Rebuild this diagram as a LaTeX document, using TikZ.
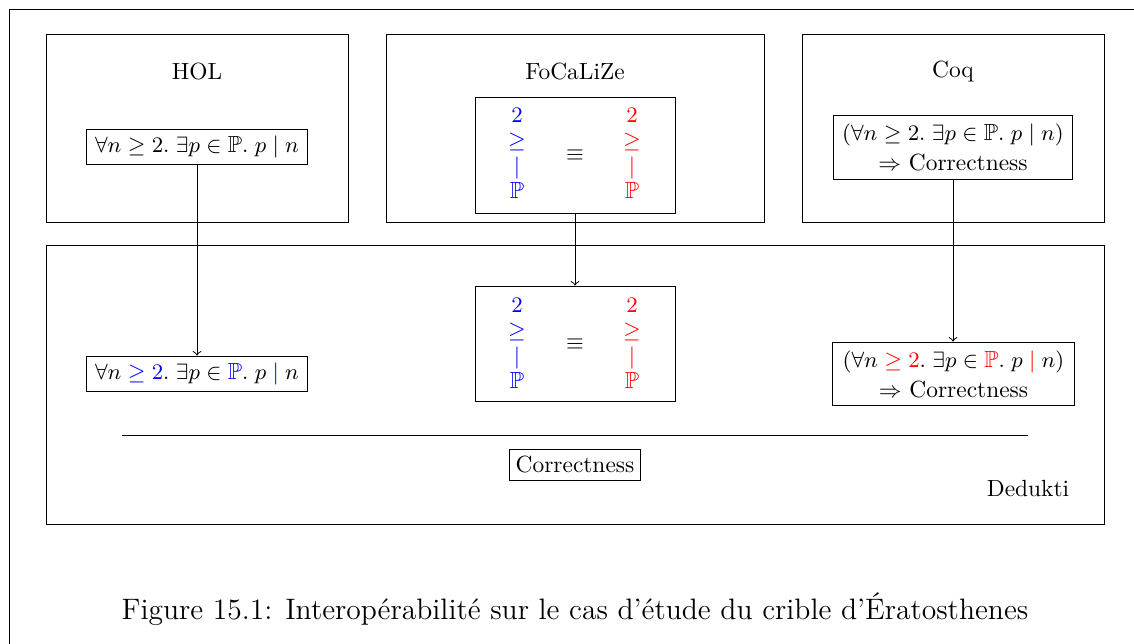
\documentclass[tikz,border=0pt]{standalone}
\usepackage{fontspec}
\usepackage{amssymb}
\newdimen\pxu \pxu=0.406pt
\newcommand\colstack[1]{\textcolor{#1}{$2$}\\[-1.2pt]\textcolor{#1}{$\geq$}\\[-1.2pt]\textcolor{#1}{$|$}\\[-1.2pt]\textcolor{#1}{$\mathbb{P}$}}
\begin{document}
\begin{tikzpicture}[x=0.406pt,y=-0.406pt,
  every node/.style={font=\fontsize{9.5}{11.5}\selectfont},
  frame/.style={draw, inner sep=0pt},
  fbox/.style={draw, inner xsep=3.6pt, inner ysep=2.8pt, align=center},
  twoline/.style={draw, inner xsep=3.6pt, inner ysep=3.4pt, align=center, font=\fontsize{9.5}{12.2}\selectfont},
  title/.style={inner sep=0pt},
  stackcol/.style={inner sep=0pt, align=center},
  arr/.style={->}]
\useasboundingbox (0,0) rectangle (1134,644);
\coordinate (fa) at (1140,9);
\coordinate (fb) at (9,9);
\coordinate (fc) at (9,650);
\draw (fa) -- (fb) -- (fc);
% HOL
\node[frame, minimum width=302\pxu, minimum height=188\pxu] (hol) at (197,128) {};
\node[title] (holt) at (197,72) {HOL};
\node[fbox] (holf) at (197,147) {$\forall n \geq 2.\; \exists p \in \mathbb{P}.\; p \mid n$};
% FoCaLiZe
\node[frame, minimum width=378\pxu, minimum height=188\pxu] (foc) at (575,128) {};
\node[title] (foct) at (575,72) {FoCaLiZe};
\node[frame, minimum width=200\pxu, minimum height=116\pxu] (focf) at (575,155) {};
\node[stackcol] (focl) at (517,153.5) {\colstack{blue}};
\node[title] (foce) at (575,155) {$\equiv$};
\node[stackcol] (focr) at (632,153.5) {\colstack{red}};
% Coq
\node[frame, minimum width=302\pxu, minimum height=188\pxu] (coq) at (953,128) {};
\node[title] (coqt) at (953,72) {Coq};
\node[twoline] (coqf) at (953,147.5) {$(\forall n \geq 2.\; \exists p \in \mathbb{P}.\; p \mid n)$\\$\Rightarrow$ Correctness};
% Dedukti
\node[frame, minimum width=1058\pxu, minimum height=279\pxu] (ded) at (575,384.5) {};
\node[title] (dedt) at (1028,489) {Dedukti};
\node[fbox] (dholf) at (197,374) {$\forall n \textcolor{blue}{{}\geq 2}.\; \exists p \in \textcolor{blue}{\mathbb{P}}.\; p \mathrel{\textcolor{blue}{|}} n$};
\node[frame, minimum width=200\pxu, minimum height=115\pxu] (dfocf) at (575,343.5) {};
\node[stackcol] (dfocl) at (517,343.5) {\colstack{blue}};
\node[title] (dfoce) at (575,344) {$\equiv$};
\node[stackcol] (dfocr) at (632,343.5) {\colstack{red}};
\node[twoline, inner xsep=4pt] (dcoqf) at (953.5,374) {$(\forall n \textcolor{red}{{}\geq 2}.\; \exists p \in \textcolor{red}{\mathbb{P}}.\; p \mathrel{\textcolor{red}{|}} n)$\\$\Rightarrow$ Correctness};
\coordinate (la) at (122,435);
\coordinate (lb) at (1028,435);
\draw (la) -- (lb);
\node[fbox, inner xsep=2.6pt] (corr) at (575,465) {Correctness};
% arrows
\draw[arr] (holf.south) -- (holf.south |- dholf.north);
\draw[arr] (focf.south) -- (focf.south |- dfocf.north);
\draw[arr] (coqf.south) -- (coqf.south |- dcoqf.north);
% caption
\node[title, font=\large] (cap) at (575,609) {Figure 15.1: Interopérabilité sur le cas d'étude du crible d'Ératosthenes};
\end{tikzpicture}
\end{document}
